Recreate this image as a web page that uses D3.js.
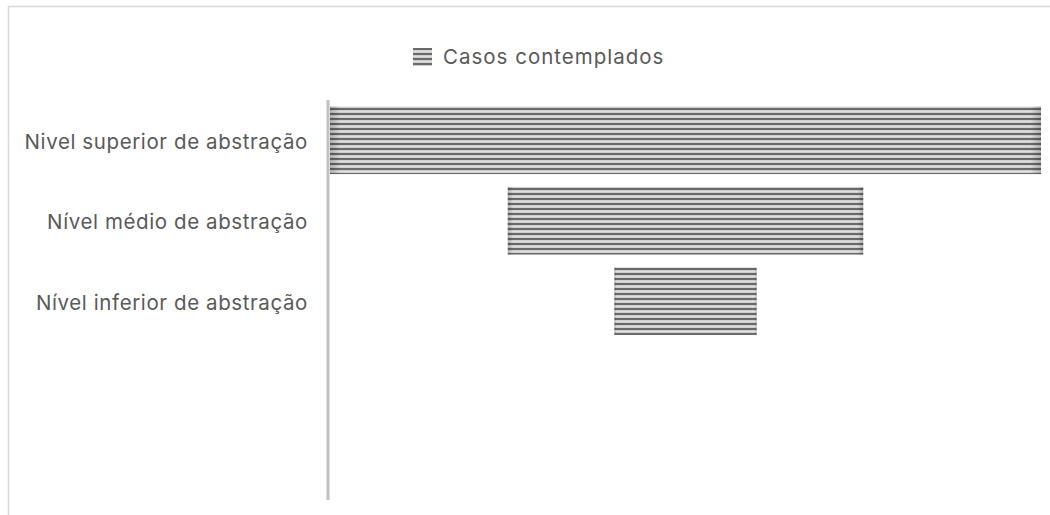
<!DOCTYPE html>
<html><head><meta charset="utf-8">
<script src="https://cdn.jsdelivr.net/npm/d3@7"></script>
<style>body{margin:0;background:#fff}svg{display:block}</style>
</head><body>
<script>
const categories = ["Nivel superior de abstração", "Nível médio de abstração", "Nível inferior de abstração"];
const values = [10, 5, 2];
const seriesName = "Casos contemplados";

const W = 1050, H = 515;
const svg = d3.select("body").append("svg").attr("width", W).attr("height", H);
const defs = svg.append("defs");
const pat = defs.append("pattern").attr("id", "stripes").attr("patternUnits", "userSpaceOnUse")
  .attr("width", 10).attr("height", 5);
pat.append("rect").attr("width", 10).attr("height", 5).attr("fill", "#bdbdbd");
pat.append("rect").attr("y", 0.5).attr("width", 10).attr("height", 2).attr("fill", "#e0e0e0");
pat.append("rect").attr("y", 3).attr("width", 10).attr("height", 2).attr("fill", "#6a6a6a");

const edge = defs.append("linearGradient").attr("id", "edge").attr("x1", 0).attr("x2", 1);
[[0, 0.2], [0.015, 0], [0.985, 0], [1, 0.2]].forEach(([o, a]) =>
  edge.append("stop").attr("offset", o).attr("stop-color", "#000").attr("stop-opacity", a));

// frame
svg.append("path").attr("d", `M8.5,${H} V6.5 H${W}`).attr("fill", "none").attr("stroke", "#d9d9d9").attr("stroke-width", 1.5);

const font = "Inter, 'Open Sans', sans-serif";
const fs = 20.5, ls = 0.6;
const y = d3.scaleBand().domain(categories).range([100, 341.5]).paddingInner(0.16).paddingOuter(0.08);
const x = d3.scaleLinear().domain([0, d3.max(values)]).range([0, 711]);
const cx = 330 + x(d3.max(values)) / 2;

const g = svg.append("g");
g.selectAll("rect.bar").data(values).join("rect").attr("class", "bar")
  .attr("x", d => cx - x(d) / 2).attr("y", (d, i) => y(categories[i]))
  .attr("width", d => x(d)).attr("height", y.bandwidth())
  .attr("fill", "url(#stripes)");
g.selectAll("rect.edge").data(values).join("rect").attr("class", "edge")
  .attr("x", d => cx - x(d) / 2).attr("y", (d, i) => y(categories[i]))
  .attr("width", d => x(d)).attr("height", y.bandwidth())
  .attr("fill", "url(#edge)");

// axis
const ax = svg.append("g").attr("transform", "translate(328,0)")
  .call(d3.axisLeft(y).tickSize(0).tickPadding(20));
ax.select(".domain").remove();
ax.append("line").attr("y1", 100).attr("y2", 500).attr("stroke", "#c0c0c0").attr("stroke-width", 3);
ax.selectAll(".tick text").attr("font-family", font).attr("font-size", fs).attr("letter-spacing", ls)
  .attr("fill", "#595959").attr("y", 2);

// legend
const lg = svg.append("g");
lg.append("rect").attr("x", 413).attr("y", 48).attr("width", 19).attr("height", 18).attr("fill", "url(#stripes)");
lg.append("text").attr("x", 443).attr("y", 57).attr("dy", "0.35em").text(seriesName)
  .attr("font-family", font).attr("font-size", fs).attr("letter-spacing", 1.0).attr("fill", "#595959");
</script>
</body></html>
